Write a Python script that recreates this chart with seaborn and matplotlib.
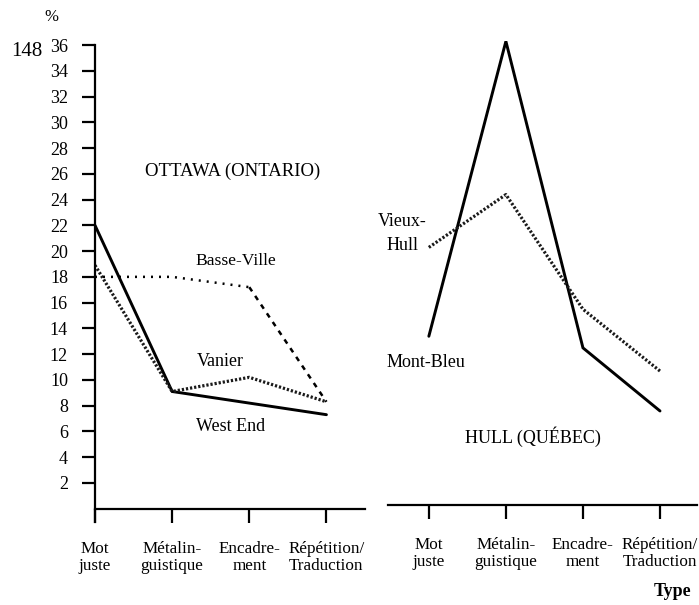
import numpy as np
import pandas as pd
import matplotlib
matplotlib.use("Agg")
import matplotlib.pyplot as plt
import seaborn as sns

categories = ["Mot\njuste", "Métalin-\nguistique", "Encadre-\nment", "Répétition/\nTraduction"]

# Ottawa (Ontario)
west_end = [22.0, 9.1, 8.2, 7.3]
vanier = [18.9, 9.1, 10.2, 8.3]
basse_ville = [18.0, 18.0, 17.2, 8.3]

# Hull (Québec)
mont_bleu = [13.1, 36.0, 12.2, 7.3]
vieux_hull = [20.0, 24.1, 15.2, 10.4]

yticks = list(range(2, 37, 2))

sns.set_theme(style="white")
plt.rcParams["font.family"] = ["Liberation Serif", "DejaVu Serif"]

W, H = 699, 605
fig = plt.figure(figsize=(W / 100, H / 100), dpi=100)

axL = fig.add_axes([95 / W, 1 - 521.6 / H, 270 / W, 476.6 / H])
axR = fig.add_axes([388 / W, 1 - 517.9 / H, 309 / W, 476.6 / H])

def df(vals):
    return pd.DataFrame({"type": categories, "pct": vals})

solid = dict(color="black", lw=2.1, solid_joinstyle="miter")
dense = dict(color="#1a1a1a", lw=2.3, linestyle=(0, (0.7, 0.6)))
sparse = dict(color="black", lw=1.8, linestyle=(0, (0.8, 2.4)))

# Left panel
sns.lineplot(data=df(west_end), x="type", y="pct", ax=axL, sort=False, **solid)
sns.lineplot(data=df(vanier), x="type", y="pct", ax=axL, sort=False, **dense)
bv = df(basse_ville)
sns.lineplot(data=bv.iloc[:3], x="type", y="pct", ax=axL, sort=False, **sparse)
sns.lineplot(data=bv.iloc[2:], x="type", y="pct", ax=axL, sort=False,
             color="black", lw=1.8, linestyle=(0, (2.0, 2.2)))

# Right panel
sns.lineplot(data=df(mont_bleu), x="type", y="pct", ax=axR, sort=False, **solid)
sns.lineplot(data=df(vieux_hull), x="type", y="pct", ax=axR, sort=False, **dense)

for ax in (axL, axR):
    ax.set_facecolor("white")
    ax.set_ylim(-1, 36)
    ax.set_xlabel("")
    ax.set_ylabel("")
    for s in ax.spines.values():
        s.set_visible(False)
    ax.spines["bottom"].set_visible(True)
    ax.spines["bottom"].set_position(("data", 0))
    ax.spines["bottom"].set_linewidth(1.6)
    ax.spines["bottom"].set_color("black")
    ax.grid(False)
    ax.tick_params(axis="x", direction="out", length=10, width=1.6, pad=13,
                   labelsize=12.3, colors="black", bottom=True)
    for lab in ax.get_xticklabels():
        lab.set_linespacing(1.12)

axL.set_xlim(0, 3.5)
axR.set_xlim(-0.53, 3.48)

axL.spines["left"].set_visible(True)
axL.spines["left"].set_linewidth(1.6)
axL.spines["left"].set_color("black")
axL.set_yticks(yticks)
axL.set_yticklabels([str(v) for v in yticks])
axL.tick_params(axis="y", direction="out", length=9.5, width=1.6, pad=10,
                labelsize=13, colors="black", left=True)
axR.set_yticks([])

# Annotations
tk = dict(color="black", fontsize=13)
axL.text(1.79, 26.2, "OTTAWA (ONTARIO)", ha="center", va="center", fontsize=13.5, color="black")
axL.text(1.83, 19.25, "Basse-Ville", ha="center", va="center", fontsize=12.6, color="black")
axL.text(1.62, 11.4, "Vanier", ha="center", va="center", **tk)
axL.text(1.76, 6.37, "West End", ha="center", va="center", **tk)
axL.text(-0.56, 38.2, "%", ha="center", va="center", fontsize=12, color="black", clip_on=False)
axL.text(-0.88, 35.5, "148", ha="center", va="center", fontsize=15, color="black", clip_on=False)

axR.text(-0.34, 21.1, "Vieux-\nHull", ha="center", va="center", multialignment="center",
         linespacing=1.55, **tk)
axR.text(-0.04, 11.1, "Mont-Bleu", ha="center", va="center", **tk)
axR.text(1.35, 5.28, "HULL (QUÉBEC)", ha="center", va="center", fontsize=13, color="black")
axR.text(3.16, -6.75, "Type", ha="center", va="center", fontsize=13, fontweight="bold",
         color="black", clip_on=False)

fig.savefig("out.png", dpi=100, facecolor="white")
